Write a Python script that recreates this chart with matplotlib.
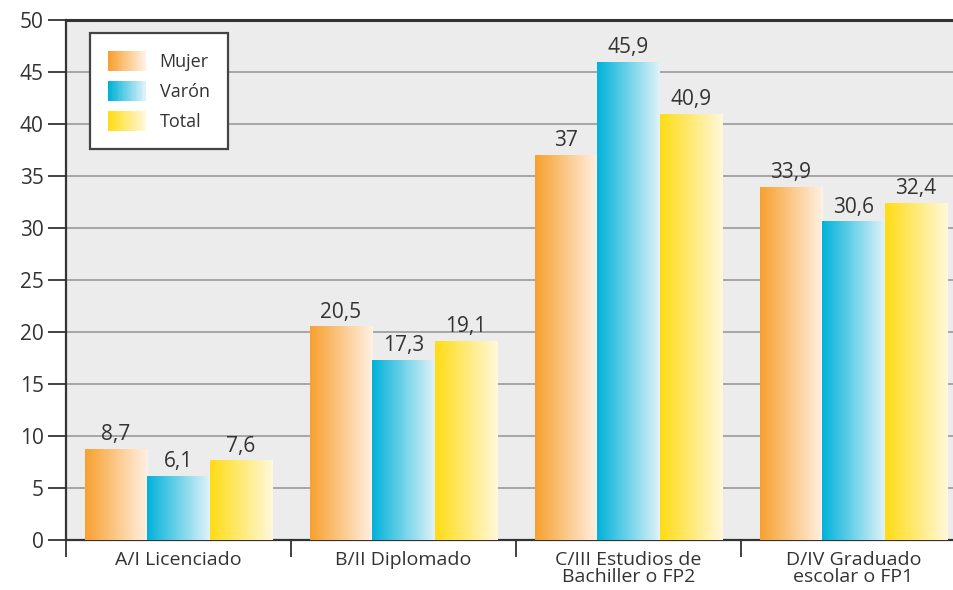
import numpy as np
import matplotlib.pyplot as plt
from matplotlib.colors import LinearSegmentedColormap, to_rgb
from matplotlib.legend_handler import HandlerBase
from matplotlib.patches import Rectangle

plt.rcParams['font.family'] = ['Open Sans', 'DejaVu Sans']

categorias = ['A/I Licenciado', 'B/II Diplomado', 'C/III Estudios de\nBachiller o FP2',
              'D/IV Graduado\nescolar o FP1']
mujer = [8.7, 20.5, 37, 33.9]
varon = [6.1, 17.3, 45.9, 30.6]
total = [7.6, 19.1, 40.9, 32.4]
series = ['Mujer', 'Varón', 'Total']

# gradient start / end colours (left -> right)
grad = {
    'Mujer': ('#f7a02f', '#fff1e4'),
    'Varón': ('#00b2da', '#e0f2f8'),
    'Total': ('#ffdc14', '#fff8dc'),
}


class GradientHandler(HandlerBase):
    def __init__(self, c0, c1):
        super().__init__()
        self.c0, self.c1 = np.array(to_rgb(c0)), np.array(to_rgb(c1))

    def create_artists(self, legend, orig_handle, xdescent, ydescent, width, height, fontsize, trans):
        n = 30
        arts = []
        for i in range(n):
            t = i / (n - 1)
            c = self.c0 * (1 - t) + self.c1 * t
            r = Rectangle((-xdescent + width * i / n, -ydescent), width / n * 1.05, height,
                          facecolor=c, edgecolor='none', transform=trans)
            arts.append(r)
        return arts


fig = plt.figure(figsize=(9.54, 5.90), dpi=100)
ax = fig.add_axes([66 / 954, 50 / 590, 888 / 954, 520 / 590])
ax.set_facecolor('#ececec')

x = np.arange(len(categorias)) + 0.5
w = 0.278
data = [mujer, varon, total]
for k, (name, vals) in enumerate(zip(series, data)):
    bars = ax.bar(x + (k - 1) * w, vals, w, color='none', edgecolor='none', zorder=3)
    cmap = LinearSegmentedColormap.from_list(name, grad[name])
    g = np.linspace(0, 1, 256).reshape(1, -1)
    for b, v in zip(bars, vals):
        ax.imshow(g, cmap=cmap, aspect='auto', zorder=3,
                  extent=[b.get_x(), b.get_x() + b.get_width(), 0, b.get_height()])
        ax.annotate(f'{v:g}'.replace('.', ','), (b.get_x() + b.get_width() / 2, v),
                    xytext=(0, 3), textcoords='offset points', ha='center', va='bottom',
                    fontsize=15, color='#333333', zorder=4)

ax.set_yticks(np.arange(0, 51, 5))
ax.yaxis.grid(True, color='#a0a0a0', linewidth=1.3, zorder=1)
ax.set_axisbelow(True)

ax.set_xticks(np.arange(0, 5))
ax.set_xticklabels([])
ax.set_xticks(x, minor=True)
ax.set_xticklabels(categorias, minor=True, fontsize=14, color='#333333', linespacing=0.95)
ax.tick_params(axis='x', which='major', length=12, width=1.3, color='#333333')
ax.tick_params(axis='x', which='minor', length=0, pad=8)
ax.tick_params(axis='y', length=13, width=1.3, color='#333333', labelsize=15,
               labelcolor='#333333', pad=3)
ax.set_xlim(0, 888 / 225)
ax.set_ylim(0, 50)

for s in ['left', 'bottom', 'top']:
    ax.spines[s].set_color('#333333')
    ax.spines[s].set_linewidth(1.6)
ax.spines['top'].set_linewidth(2.2)
ax.spines['right'].set_visible(False)

hmap = {}
proxies = []
for name in series:
    p = Rectangle((0, 0), 1, 1)
    proxies.append(p)
    hmap[p] = GradientHandler(*grad[name])
leg = ax.legend(proxies, series, handler_map=hmap,
                loc='upper left', bbox_to_anchor=(24 / 888, 1 - 13 / 520),
                fontsize=13, frameon=True, fancybox=False, edgecolor='#444444',
                handlelength=2.1, handleheight=1.28, labelspacing=0.57,
                borderpad=1.0, handletextpad=0.75, borderaxespad=0)
leg.get_frame().set_linewidth(1.6)
leg.get_frame().set_alpha(1)
leg.set_zorder(5)
for t in leg.get_texts():
    t.set_color('#333333')

fig.savefig('out.png', dpi=100)
